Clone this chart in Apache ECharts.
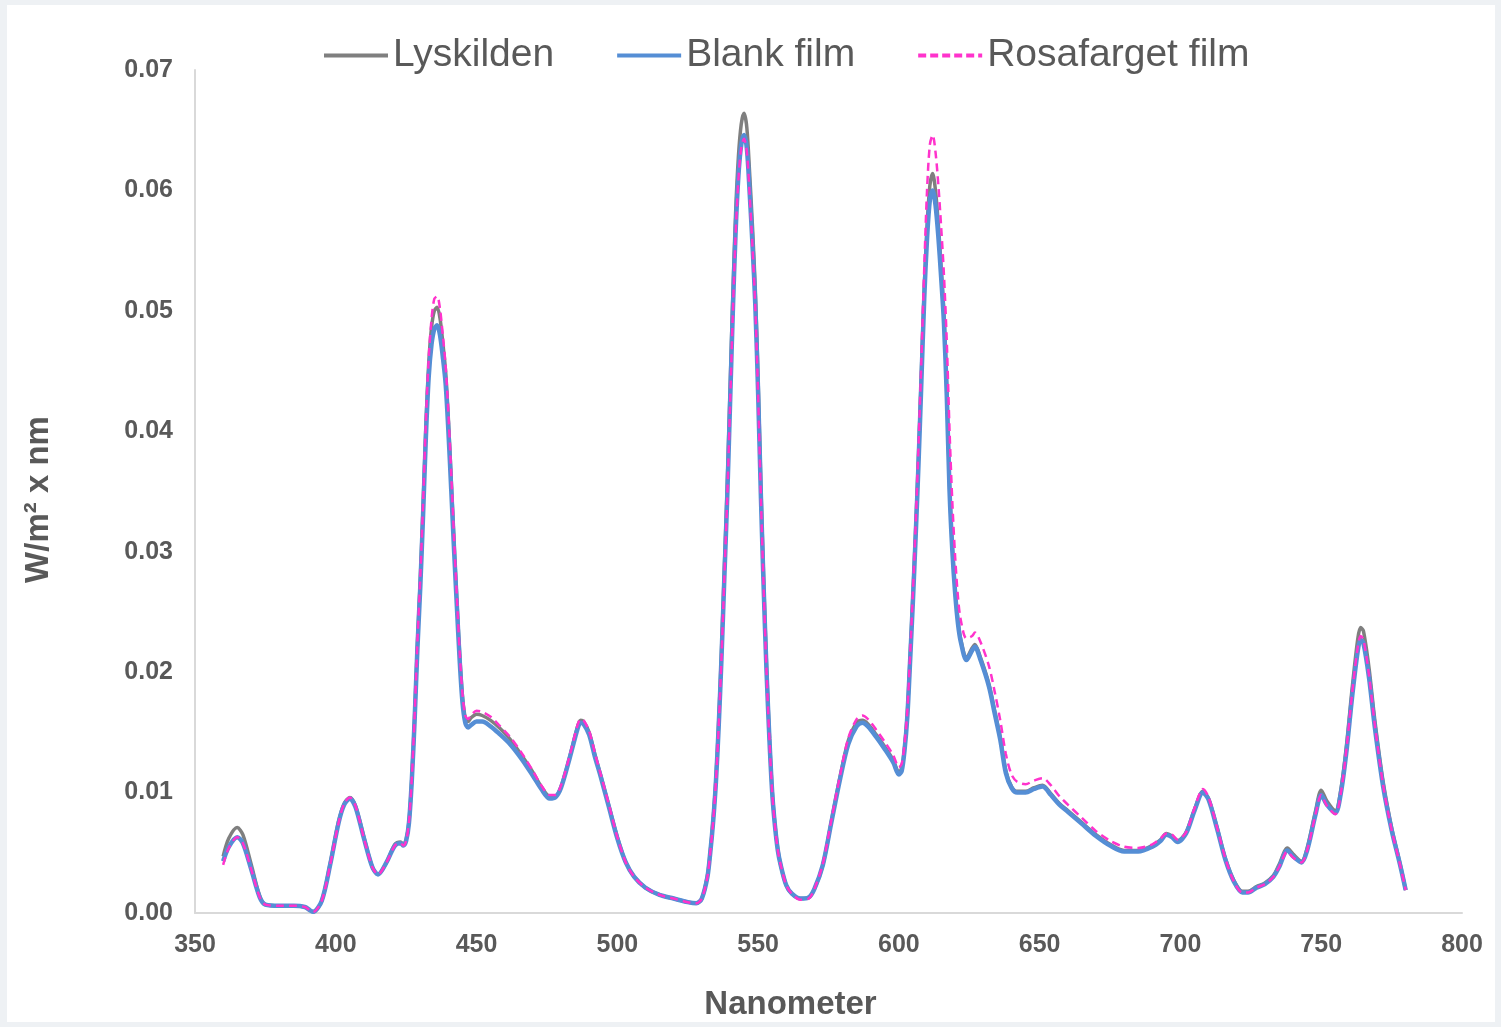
<!DOCTYPE html>
<html>
<head>
<meta charset="utf-8">
<script src="https://cdn.jsdelivr.net/npm/echarts/dist/echarts.min.js"></script>
<style>
  html, body { margin: 0; padding: 0; background: #eef1f4; }
  #chart { position: absolute; left: 7px; top: 5px; width: 1488px; height: 1017px; background: #ffffff; }
</style>
</head>
<body>
<div id="chart"></div>
<script>
// wavelength in nm
var nm = [
  360, 362, 365, 367, 370, 373, 375, 380, 385, 389,
  391, 392, 395, 398, 401, 403, 405, 407, 410, 413,
  415, 418, 421, 423, 424, 425, 426, 427, 428, 429,
  430, 431, 432, 433, 434, 435, 436, 437, 438, 439,
  440, 441, 442, 443, 444, 445, 446, 447, 448, 450,
  452, 455, 458, 462, 466, 470, 473, 476, 478, 480,
  483, 486, 487, 488, 490, 492, 494, 497, 500, 503,
  506, 510, 515, 520, 525, 528, 530, 532, 533, 534,
  535, 536, 537, 538, 539, 540, 541, 542, 543, 544,
  545, 546, 547, 548, 549, 550, 551, 552, 553, 554,
  555, 556, 557, 558, 560, 562, 565, 568, 570, 573,
  576, 579, 582, 585, 587, 589, 592, 595, 598, 600,
  601, 602, 603, 604, 605, 606, 607, 608, 609, 610,
  611, 612, 613, 614, 615, 616, 617, 618, 619, 620,
  621, 622, 624, 626, 627, 629, 632, 634, 636, 638,
  640, 642, 645, 648, 651, 654, 657, 660, 665, 670,
  675, 680, 685, 690, 693, 695, 697, 699, 702, 705,
  708, 710, 713, 716, 719, 722, 724, 727, 730, 733,
  735, 738, 740, 743, 745, 748, 750, 752, 755, 757,
  759, 761, 763, 764, 765, 767, 769, 772, 775, 778, 780
];

var lyskilden = [
  .0047, .0062, .0071, .0065, .0040, .0014, .0007, .0006, .0006, .0005,
  .0002, .0001, .0010, .0041, .0076, .0091, .0096, .0089, .0063, .0038,
  .0032, .0042, .0057, .0059, .0057, .0061, .0076, .0112, .0163, .0224,
  .0276, .0337, .0404, .0456, .0486, .0500, .0503, .0494, .0474, .0450,
  .0410, .0360, .0308, .0260, .0215, .0180, .0162, .0159, .0162, .0165,
  .0164, .0160, .0154, .0144, .0131, .0117, .0105, .0097, .0097, .0105,
  .0129, .0156, .0160, .0159, .0150, .0132, .0115, .0089, .0063, .0042,
  .0030, .0021, .0015, .0012, .0009, .0008, .0012, .0031, .0051, .0077,
  .0111, .0159, .0218, .0286, .0353, .0432, .0512, .0581, .0628, .0655,
  .0664, .0652, .0614, .0570, .0518, .0443, .0354, .0275, .0205, .0148,
  .0102, .0073, .0053, .0040, .0023, .0016, .0012, .0013, .0020, .0040,
  .0076, .0112, .0143, .0158, .0160, .0157, .0148, .0138, .0127, .0117,
  .0120, .0137, .0166, .0214, .0265, .0321, .0382, .0450, .0519, .0570,
  .0604, .0614, .0600, .0572, .0537, .0498, .0437, .0355, .0304, .0268,
  .0242, .0227, .0212, .0220, .0223, .0212, .0190, .0168, .0146, .0118,
  .0105, .0101, .0101, .0104, .0106, .0099, .0091, .0085, .0075, .0065,
  .0057, .0052, .0052, .0056, .0061, .0066, .0064, .0060, .0067, .0086,
  .0101, .0095, .0071, .0045, .0027, .0018, .0018, .0022, .0025, .0031,
  .0040, .0054, .0049, .0043, .0054, .0085, .0102, .0093, .0085, .0103,
  .0140, .0187, .0228, .0237, .0234, .0203, .0161, .0109, .0071, .0041, .0019
];

var blankFilm = [
  .0043, .0055, .0063, .0058, .0036, .0013, .0007, .0006, .0006, .0005,
  .0002, .0001, .0010, .0040, .0075, .0090, .0095, .0088, .0062, .0038,
  .0032, .0042, .0056, .0058, .0056, .0060, .0075, .0110, .0160, .0220,
  .0270, .0330, .0395, .0445, .0472, .0485, .0488, .0480, .0462, .0440,
  .0400, .0352, .0302, .0255, .0210, .0175, .0158, .0154, .0156, .0159,
  .0159, .0155, .0149, .0140, .0128, .0114, .0103, .0095, .0096, .0104,
  .0128, .0154, .0158, .0157, .0148, .0130, .0114, .0088, .0062, .0042,
  .0030, .0021, .0015, .0012, .0009, .0008, .0012, .0030, .0050, .0075,
  .0108, .0155, .0212, .0278, .0343, .0420, .0498, .0565, .0612, .0638,
  .0646, .0635, .0598, .0555, .0505, .0432, .0345, .0268, .0200, .0145,
  .0100, .0072, .0052, .0040, .0023, .0016, .0012, .0013, .0020, .0040,
  .0075, .0110, .0140, .0155, .0158, .0155, .0146, .0136, .0125, .0115,
  .0118, .0135, .0163, .0210, .0260, .0315, .0375, .0442, .0510, .0560,
  .0592, .0600, .0588, .0562, .0528, .0490, .0430, .0350, .0300, .0265,
  .0240, .0225, .0210, .0218, .0221, .0210, .0188, .0166, .0144, .0116,
  .0104, .0100, .0100, .0103, .0105, .0098, .0090, .0084, .0074, .0064,
  .0056, .0051, .0051, .0055, .0060, .0065, .0063, .0059, .0066, .0085,
  .0100, .0094, .0070, .0044, .0026, .0017, .0017, .0021, .0024, .0030,
  .0038, .0052, .0047, .0042, .0052, .0082, .0098, .0090, .0083, .0100,
  .0135, .0180, .0218, .0227, .0224, .0195, .0155, .0105, .0069, .0040, .0019
];

var rosafarget = [
  .0040, .0054, .0063, .0058, .0036, .0013, .0007, .0006, .0006, .0005,
  .0002, .0001, .0010, .0040, .0075, .0091, .0096, .0089, .0062, .0038,
  .0032, .0042, .0056, .0058, .0056, .0060, .0076, .0112, .0164, .0226,
  .0278, .0340, .0408, .0460, .0493, .0510, .0512, .0502, .0480, .0455,
  .0415, .0365, .0312, .0263, .0217, .0182, .0164, .0161, .0164, .0168,
  .0167, .0163, .0156, .0146, .0133, .0118, .0106, .0098, .0098, .0106,
  .0130, .0157, .0161, .0160, .0151, .0133, .0116, .0090, .0063, .0042,
  .0030, .0021, .0015, .0012, .0009, .0008, .0012, .0030, .0050, .0075,
  .0108, .0155, .0212, .0278, .0342, .0418, .0496, .0562, .0609, .0635,
  .0643, .0632, .0596, .0553, .0503, .0430, .0344, .0267, .0200, .0145,
  .0100, .0072, .0052, .0040, .0023, .0016, .0011, .0012, .0020, .0041,
  .0077, .0113, .0145, .0161, .0164, .0161, .0152, .0142, .0131, .0121,
  .0124, .0140, .0168, .0215, .0268, .0325, .0390, .0460, .0535, .0600,
  .0638, .0646, .0632, .0605, .0570, .0530, .0475, .0400, .0340, .0295,
  .0262, .0243, .0228, .0230, .0233, .0225, .0205, .0184, .0160, .0132,
  .0115, .0109, .0107, .0110, .0112, .0106, .0097, .0090, .0079, .0068,
  .0060, .0055, .0054, .0057, .0062, .0066, .0065, .0061, .0067, .0087,
  .0103, .0096, .0071, .0045, .0026, .0017, .0017, .0021, .0024, .0030,
  .0038, .0051, .0046, .0042, .0052, .0082, .0098, .0089, .0082, .0100,
  .0137, .0183, .0221, .0230, .0227, .0197, .0157, .0106, .0069, .0040, .0019
];

var yTicks = ['0.00', '0.01', '0.02', '0.03', '0.04', '0.05', '0.06', '0.07'];

if (lyskilden.length != nm.length || blankFilm.length != nm.length || rosafarget.length != nm.length) {
  throw new Error('length mismatch ' + nm.length + ' ' + lyskilden.length + ' ' + blankFilm.length + ' ' + rosafarget.length);
}

function pairs(vals) {
  return nm.map(function(w, i) { return [w, vals[i]]; });
}

var textColor = '#595959';
var font = 'Arial, "Liberation Sans", sans-serif';

// legend icons: solid and dashed strokes, 64 x 4
var solidIcon = 'path://M0,0H64V4H0Z';
var dashIcon = 'path://M0,0H8V4H0Z M12,0H20V4H12Z M24,0H32V4H24Z M36,0H44V4H36Z M48,0H56V4H48Z M60,0H64V4H60Z';

var myChart = echarts.init(document.getElementById('chart'));
myChart.setOption({
  backgroundColor: '#ffffff',
  animation: false,
  textStyle: { fontFamily: font },
  legend: {
    top: 26,
    left: 312,
    itemWidth: 64,
    itemHeight: 4,
    itemGap: 63,
    textStyle: { color: textColor, fontSize: 39, fontFamily: font },
    data: [
      { name: 'Lyskilden', icon: solidIcon },
      { name: 'Blank film', icon: solidIcon },
      { name: 'Rosafarget film', icon: dashIcon }
    ]
  },
  grid: { left: 188, right: 33, top: 65, bottom: 109, outerBoundsMode: 'none' },
  xAxis: {
    type: 'value',
    min: 350,
    max: 800,
    interval: 50,
    name: 'Nanometer',
    nameLocation: 'middle',
    nameGap: 75,
    nameTextStyle: { color: textColor, fontSize: 33, fontWeight: 'bold', padding: [0, 76, 0, 0] },
    axisLine: { lineStyle: { color: '#d9d9d9', width: 2 } },
    axisTick: { show: false },
    splitLine: { show: false },
    axisLabel: { color: textColor, fontSize: 25, fontWeight: 'bold', margin: 20 }
  },
  yAxis: {
    type: 'value',
    min: 0,
    max: 0.07,
    interval: 0.01,
    name: 'W/m² x nm',
    nameLocation: 'middle',
    nameGap: 140,
    nameTextStyle: { color: textColor, fontSize: 33, fontWeight: 'bold', padding: [0, 16, 0, 0] },
    axisLine: { show: true, lineStyle: { color: '#d9d9d9', width: 2 } },
    axisTick: { show: false },
    splitLine: { show: false },
    axisLabel: {
      color: textColor, fontSize: 25, fontWeight: 'bold', margin: 22,
      formatter: function(v) { return yTicks[Math.round(v * 100)]; }
    }
  },
  series: [
    {
      name: 'Lyskilden', type: 'line', data: pairs(lyskilden),
      smooth: 0.3, showSymbol: false, symbol: 'none', z: 2,
      lineStyle: { color: '#7f7f7f', width: 3.5 },
      itemStyle: { color: '#7f7f7f' }
    },
    {
      name: 'Blank film', type: 'line', data: pairs(blankFilm),
      smooth: 0.3, showSymbol: false, symbol: 'none', z: 3,
      lineStyle: { color: '#558ed5', width: 4.5 },
      itemStyle: { color: '#558ed5' }
    },
    {
      name: 'Rosafarget film', type: 'line', data: pairs(rosafarget),
      smooth: 0.3, showSymbol: false, symbol: 'none', z: 4,
      lineStyle: { color: '#ff33cc', width: 2.5, type: [8, 5] },
      itemStyle: { color: '#ff33cc' }
    }
  ]
});
</script>
</body>
</html>
